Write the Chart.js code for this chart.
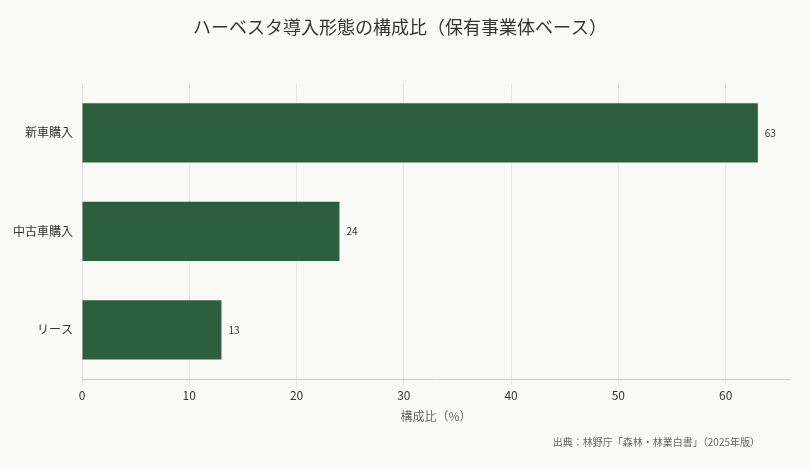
<!DOCTYPE html>
<html>
<head>
<meta charset="utf-8">
<script src="https://cdn.jsdelivr.net/npm/chart.js@4"></script>
<style>
  html, body { margin: 0; padding: 0; background: #f9f9f5; }
  #wrap { position: relative; width: 810px; height: 468px; }
</style>
</head>
<body>
<div id="wrap"><canvas id="chart"></canvas></div>
<script>
const categories = ['新車購入', '中古車購入', 'リース'];
const shares = [63, 24, 13];
const xTicks = [0, 10, 20, 30, 40, 50, 60];

const FONT = "'Noto Sans CJK JP', 'Noto Sans', sans-serif";

// 棒の右に値を描く
const valueLabels = {
    id: 'valueLabels',
    afterDatasetsDraw(chart) {
        const ctx = chart.ctx;
        const meta = chart.getDatasetMeta(0);
        ctx.save();
        ctx.font = '10px ' + FONT;
        ctx.fillStyle = '#333';
        ctx.textBaseline = 'middle';
        meta.data.forEach((bar, i) => {
            ctx.fillText(String(shares[i]), bar.x + 7, bar.y);
        });
        ctx.restore();
    }
};

// 出典
const sourceNote = {
    id: 'sourceNote',
    afterDraw(chart) {
        const ctx = chart.ctx;
        ctx.save();
        ctx.font = '10px ' + FONT;
        ctx.fillStyle = '#666';
        ctx.textAlign = 'right';
        ctx.fillText('出典：林野庁「森林・林業白書」（2025年版）', 760, 446);
        ctx.restore();
    }
};

new Chart(document.getElementById('chart'), {
    type: 'bar',
    data: {
        labels: categories,
        datasets: [{
            data: shares,
            backgroundColor: '#2d5e3e',
            barPercentage: 0.6,
            categoryPercentage: 1
        }]
    },
    options: {
        indexAxis: 'y',
        responsive: true,
        maintainAspectRatio: false,
        animation: false,
        layout: { padding: { top: 10, right: 20, bottom: 40, left: 10 } },
        scales: {
            x: {
                min: 0,
                max: 66,
                afterBuildTicks: axis => { axis.ticks = xTicks.map(v => ({ value: v })); },
                grid: { color: '#e4e4e0', drawTicks: true, tickLength: 6 },
                border: { color: '#ccc' },
                ticks: { color: '#333', font: { size: 12, family: FONT } },
                title: { display: true, text: '構成比（%）', color: '#666', font: { size: 12, family: FONT } }
            },
            y: {
                grid: { display: false, tickLength: 6 },
                border: { color: '#ddd' },
                ticks: { color: '#333', font: { size: 12, family: FONT } }
            }
        },
        plugins: {
            legend: { display: false },
            tooltip: { enabled: false },
            title: {
                display: true,
                text: 'ハーベスタ導入形態の構成比（保有事業体ベース）',
                color: '#333',
                font: { size: 18, weight: 'normal', family: FONT },
                padding: { top: 6, bottom: 46 }
            }
        }
    },
    plugins: [valueLabels, sourceNote]
});
</script>
</body>
</html>
